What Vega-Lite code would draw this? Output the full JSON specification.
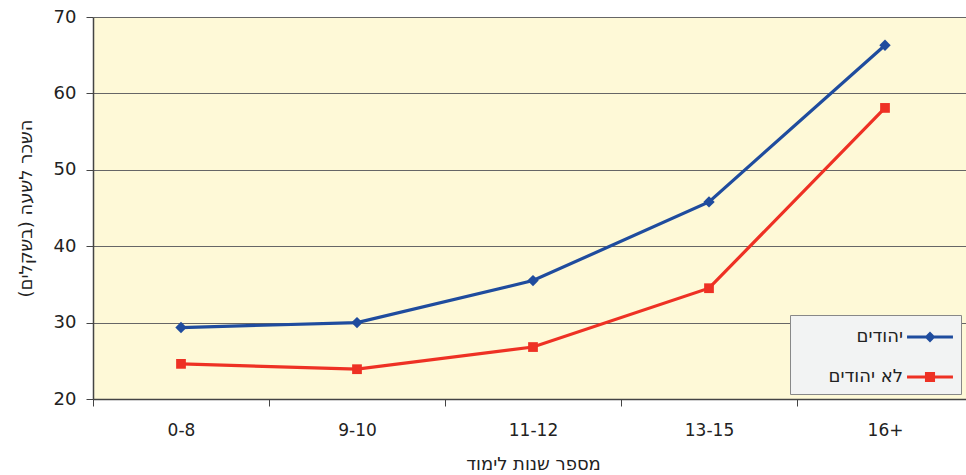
{
  "$schema": "https://vega.github.io/schema/vega-lite/v6.json",
  "width": 880,
  "height": 382,
  "autosize": "none",
  "padding": {"left": 93, "top": 17, "right": -7, "bottom": 76},
  "background": "white",
  "config": {
    "font": "DejaVu Sans",
    "view": {"fill": "#FEF9D7", "stroke": null}
  },
  "data": {
    "values": [
      {"edu": "0-8", "group": "יהודים", "wage": 29.35},
      {"edu": "9-10", "group": "יהודים", "wage": 30.0},
      {"edu": "11-12", "group": "יהודים", "wage": 35.5},
      {"edu": "13-15", "group": "יהודים", "wage": 45.8},
      {"edu": "16+", "group": "יהודים", "wage": 66.3},
      {"edu": "0-8", "group": "לא יהודים", "wage": 24.6},
      {"edu": "9-10", "group": "לא יהודים", "wage": 23.9},
      {"edu": "11-12", "group": "לא יהודים", "wage": 26.8},
      {"edu": "13-15", "group": "לא יהודים", "wage": 34.5},
      {"edu": "16+", "group": "לא יהודים", "wage": 58.1}
    ]
  },
  "encoding": {
    "x": {
      "field": "edu",
      "type": "ordinal",
      "sort": ["0-8", "9-10", "11-12", "13-15", "16+"],
      "scale": {"type": "band", "paddingInner": 0, "paddingOuter": 0},
      "axis": {
        "title": "מספר שנות לימוד",
        "titleFontSize": 18,
        "titleFontWeight": "normal",
        "titleColor": "#222",
        "titlePadding": 17,
        "labelAngle": 0,
        "labelFontSize": 17,
        "labelColor": "#222",
        "labelPadding": 16,
        "tickBand": "extent",
        "tickSize": 7,
        "tickColor": "#444",
        "domainColor": "#444",
        "domainWidth": 1.5,
        "grid": false
      }
    },
    "y": {
      "field": "wage",
      "type": "quantitative",
      "scale": {"domain": [20, 70], "nice": false, "zero": false},
      "axis": {
        "title": "השכר לשעה (בשקלים)",
        "titleFontSize": 18,
        "titleFontWeight": "normal",
        "titleColor": "#222",
        "titlePadding": 18,
        "values": [20, 30, 40, 50, 60, 70],
        "labelFontSize": 18,
        "labelColor": "#222",
        "labelPadding": 10,
        "tickSize": 7,
        "tickColor": "#444",
        "domainColor": "#444",
        "domainWidth": 1.5,
        "grid": true,
        "gridColor": "#666",
        "gridOpacity": 1,
        "gridWidth": 1
      }
    },
    "color": {
      "field": "group",
      "type": "nominal",
      "scale": {"domain": ["יהודים", "לא יהודים"], "range": ["#1F4C9E", "#EE3124"]}
    }
  },
  "layer": [
    {
      "mark": {"type": "line", "strokeWidth": 3.2},
      "encoding": {
        "color": {
          "field": "group",
          "type": "nominal",
          "scale": {"domain": ["יהודים", "לא יהודים"], "range": ["#1F4C9E", "#EE3124"]},
          "legend": {
            "title": null,
            "orient": "none",
            "legendX": 697,
            "legendY": 298,
            "fillColor": "#F2F3F3",
            "strokeColor": "#888",
            "padding": 8,
            "rowPadding": 17,
            "labelFontSize": 18,
            "labelColor": "#222",
            "symbolSize": 784,
            "symbolType": "M-1.64,-0.107H1.64V0.107H-1.64Z",
            "symbolStrokeWidth": 0,
            "encode": {
              "symbols": {
                "update": {
                  "x": {"value": 132},
                  "shape": {"signal": "datum.value === 'יהודים' ? 'M-1.64,-0.107H1.64V0.107H-1.64Z M0,-0.39L0.39,0L0,0.39L-0.39,0Z' : 'M-1.64,-0.107H1.64V0.107H-1.64Z M-0.36,-0.36H0.36V0.36H-0.36Z'"},
                  "fill": {"signal": "datum.value === 'יהודים' ? '#1F4C9E' : '#EE3124'"},
                  "strokeWidth": {"value": 0},
                  "opacity": {"value": 1}
                }
              },
              "labels": {
                "update": {
                  "x": {"value": 105},
                  "align": {"value": "right"}
                }
              }
            }
          }
        }
      }
    },
    {
      "transform": [{"filter": "datum.group === 'יהודים'"}],
      "mark": {"type": "point", "filled": true, "opacity": 1, "shape": "diamond", "size": 130},
      "encoding": {
        "color": {
          "field": "group",
          "type": "nominal",
          "scale": {"domain": ["יהודים", "לא יהודים"], "range": ["#1F4C9E", "#EE3124"]},
          "legend": null
        }
      }
    },
    {
      "transform": [{"filter": "datum.group === 'לא יהודים'"}],
      "mark": {"type": "point", "filled": true, "opacity": 1, "shape": "square", "size": 95},
      "encoding": {
        "color": {
          "field": "group",
          "type": "nominal",
          "scale": {"domain": ["יהודים", "לא יהודים"], "range": ["#1F4C9E", "#EE3124"]},
          "legend": null
        }
      }
    }
  ]
}
